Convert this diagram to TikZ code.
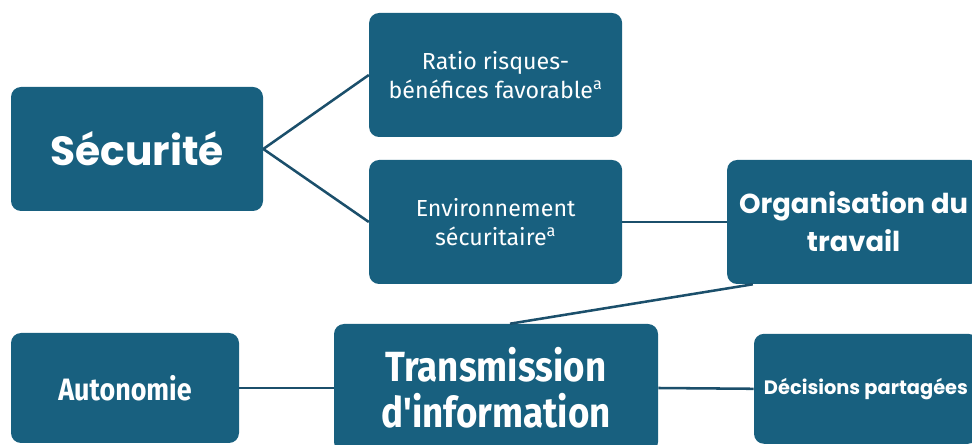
\documentclass[tikz,border=0pt]{standalone}
\usepackage{fontspec}
\usepackage{xcolor}
\usepackage{tikz}
\usetikzlibrary{positioning,calc}

\setmainfont{Fira Sans}
\newfontfamily\headfont{Poppins}
\newfontfamily\narrowfont[FakeStretch=0.87]{Fira Sans}

\definecolor{boxblue}{HTML}{18607F}
\definecolor{linkblue}{HTML}{1B4F6B}

\begin{document}
\begin{tikzpicture}[
						box/.style={rectangle, rounded corners=0.25cm, fill=boxblue, text=white, align=center, inner sep=2pt},
						small/.style={box, minimum width=6.325cm, minimum height=3.1cm, font=\fontsize{16.5}{20.5}\selectfont},
						big/.style={box, font=\headfont\bfseries\fontsize{29}{34}\selectfont},
						link/.style={draw=linkblue, line width=1.8pt}
						]
						\useasboundingbox (0,0) rectangle (24.3,-11.125);
						\clip (0,0) rectangle (24.3,-11.125);
						
						\node[big, minimum width=6.3cm, minimum height=3.1cm] (sec) at (3.425,-3.725) {Sécurité};
						\node[small] (ratio) at (12.39,-1.875) {Ratio risques-\\bénéfices favorable\textsuperscript{a}};
						\node[small] (env) at (12.39,-5.55) {Environnement\\sécuritaire\textsuperscript{a}};
						\node[box, minimum width=6.325cm, minimum height=3.1cm, font=\headfont\bfseries\fontsize{19.5}{27}\selectfont] (org) at (21.34,-5.55) {Organisation du\\travail};
						\node[box, minimum width=8.1cm, minimum height=3.2cm, font=\narrowfont\bfseries\fontsize{30}{33}\selectfont] (trans) at (12.4,-9.7) {Transmission\\d'information};
						\node[box, minimum width=5.7cm, minimum height=2.75cm, font=\narrowfont\bfseries\fontsize{22}{26}\selectfont] (auto) at (3.125,-9.7) {Autonomie};
						\node[box, minimum width=5.6cm, minimum height=2.75cm, font=\headfont\bfseries\fontsize{13.8}{18}\selectfont] (dec) at (21.65,-9.72) {Décisions partagées};
						
						\draw[link] (sec.east) -- (ratio.west);
						\draw[link] (sec.east) -- (env.west);
						\draw[link] (env.east) -- (org.west);
						\draw[link] ([xshift=0.65cm]org.south west) -- ([xshift=0.35cm]trans.north);
						\draw[link] (auto.east) -- (trans.west);
						\draw[link] (trans.east) -- (dec.west);
					\end{tikzpicture}
\end{document}
